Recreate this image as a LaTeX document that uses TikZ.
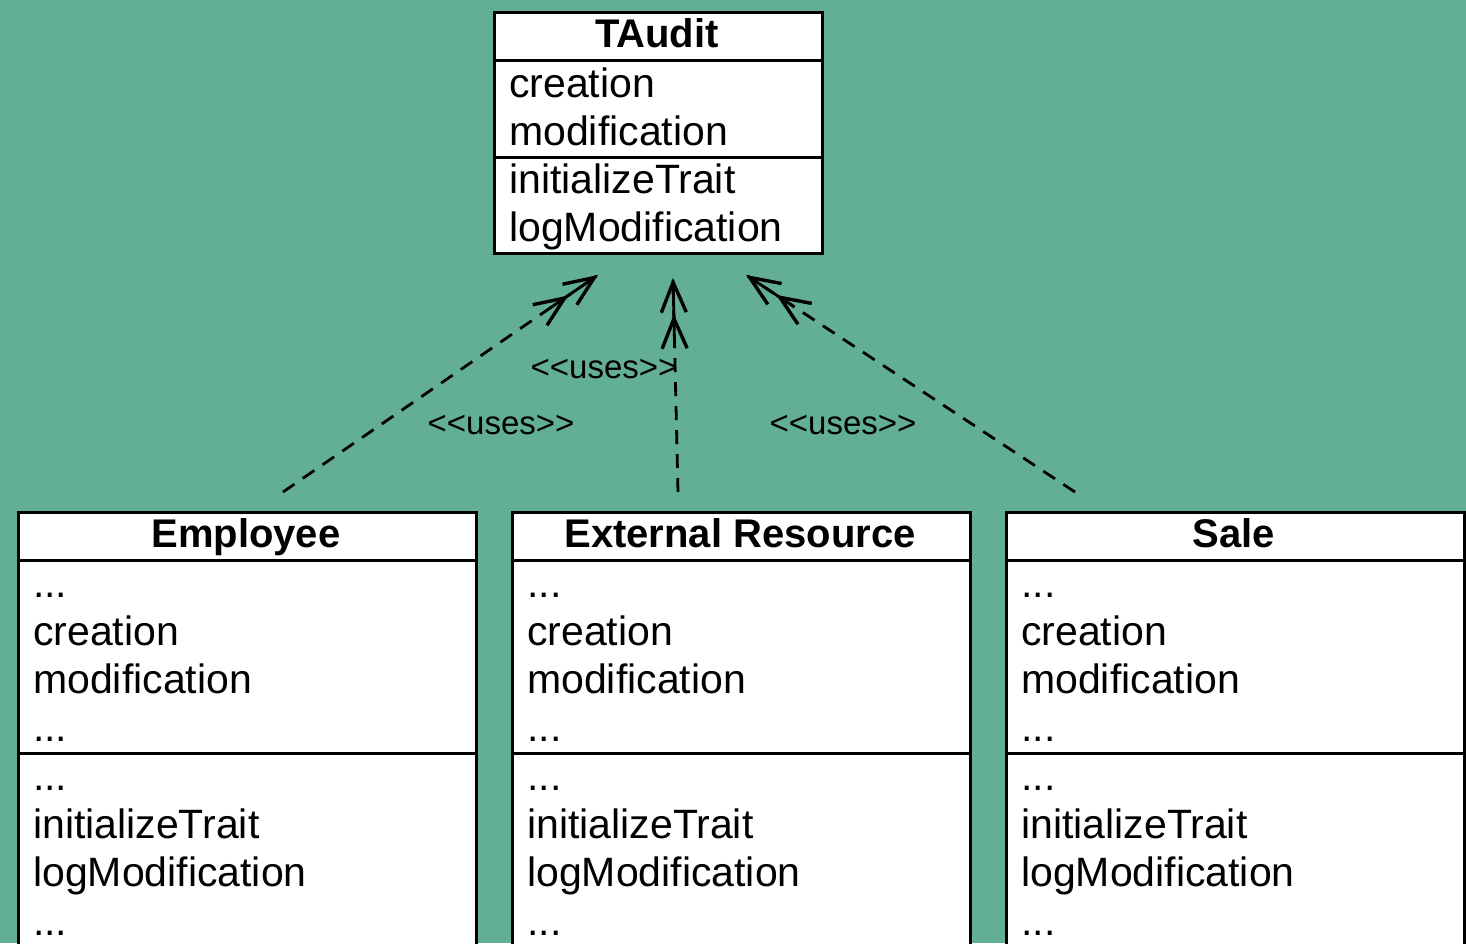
\documentclass[tikz,border=0pt]{standalone}
\usepackage{fontspec}
\setmainfont{Liberation Sans}
\usetikzlibrary{arrows.meta,calc}
\definecolor{board}{RGB}{99,174,150}
\begin{document}
\begin{tikzpicture}[x=1pt,y=-1pt,
  part/.style={draw=black,fill=white,line width=3pt,rectangle,inner sep=0pt,anchor=north west},
  title/.style={font=\fontsize{40}{48}\selectfont\bfseries,anchor=base,inner sep=0pt},
  item/.style={font=\fontsize{41}{48}\selectfont,anchor=base west,inner sep=0pt},
  stereo/.style={font=\fontsize{33}{36}\selectfont,inner sep=0pt},
  uses/.style={draw=black,line width=2.8pt,dash pattern=on 14pt off 10pt,
    -{Straight Barb[length=30pt,width=25pt,line width=3.4pt] Straight Barb[length=30pt,width=25pt,line width=3.4pt]}},
  shaft/.style={draw=black,line width=2.8pt}]
\useasboundingbox (0,0) rectangle (1466,943);
\fill[board] (0,0) rectangle (1466,943);
\clip (0,0) rectangle (1466,943);

% trait TAudit
\node[part,minimum width=328pt,minimum height=48pt] (audit) at (493,11) {};
\node[part,minimum width=328pt,minimum height=97pt] (auditA) at (493,59) {};
\node[part,minimum width=328pt,minimum height=96pt] (auditM) at (493,156) {};
\node[title] (auditT) at (657,47) {TAudit};
\node[item] (a1) at (509,97) {creation};
\node[item] (a2) at (509,145) {modification};
\node[item] (a3) at (509,193) {initializeTrait};
\node[item] (a4) at (509,241) {logModification};

% classes using the trait
\foreach \nm/\x/\ttl in {emp/17/Employee,ext/511/External Resource,sale/1005/Sale}{
  \node[part,minimum width=458pt,minimum height=48pt] (\nm) at (\x,511) {};
  \node[part,minimum width=458pt,minimum height=193pt] (\nm A) at (\x,559) {};
  \node[part,minimum width=458pt,minimum height=230pt] (\nm M) at (\x,752) {};
  \node[title] (\nm T) at (\x+229,547) {\ttl};
  \node[item] (\nm 1) at (\x+16,597) {...};
  \node[item] (\nm 2) at (\x+16,645) {creation};
  \node[item] (\nm 3) at (\x+16,693) {modification};
  \node[item] (\nm 4) at (\x+16,741) {...};
  \node[item] (\nm 5) at (\x+16,790) {...};
  \node[item] (\nm 6) at (\x+16,838) {initializeTrait};
  \node[item] (\nm 7) at (\x+16,886) {logModification};
  \node[item] (\nm 8) at (\x+16,935) {...};
}

% connector ends
\coordinate (empOut) at ([shift={(266,-19)}]emp.north west);
\coordinate (extOut) at ([shift={(167,-19)}]ext.north west);
\coordinate (saleOut) at ([shift={(70,-19)}]sale.north west);
\coordinate (in1) at ([shift={(105,20)}]auditM.south west);
\coordinate (in2) at ([shift={(180,23)}]auditM.south west);
\coordinate (in3) at ([shift={(253,20)}]auditM.south west);

% dependencies: dashed lines, solid shaft through the double open heads
\foreach \from/\to in {empOut/in1,extOut/in2,saleOut/in3}{
  \draw[uses] (\from) -- (\to);
  \draw[shaft] ($(\to)!58pt!(\from)$) -- ($(\to)!2pt!(\from)$);
}

\node[stereo] (s2) at (604,369) {{<}{<}uses{>}{>}};
\node[stereo] (s1) at (501,425) {{<}{<}uses{>}{>}};
\node[stereo] (s3) at (843,425) {{<}{<}uses{>}{>}};
\end{tikzpicture}
\end{document}
